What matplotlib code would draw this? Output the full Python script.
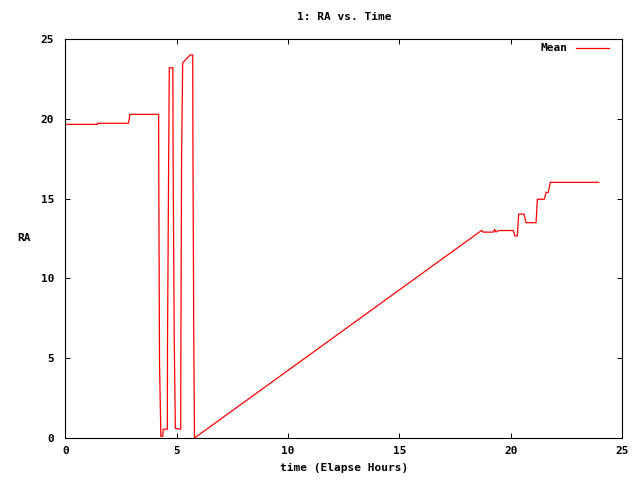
import matplotlib
matplotlib.use("Agg")
import matplotlib.pyplot as plt

# RA mean vs elapsed hours
hours = [0.0, 1.44, 1.45, 2.83, 2.85, 2.90, 4.19, 4.20, 4.23, 4.29, 4.37, 4.40,
         4.58, 4.59, 4.64, 4.67, 4.83, 4.84, 4.89, 4.94, 5.18, 5.19, 5.22, 5.27,
         5.60, 5.72, 5.73, 5.77, 5.80, 18.69, 18.75, 19.21, 19.27, 19.33, 19.45,
         20.11, 20.18, 20.29, 20.35, 20.59, 20.68, 21.13, 21.19, 21.50, 21.58,
         21.68, 21.77, 23.94]
ra_mean = [19.65, 19.65, 19.72, 19.72, 19.82, 20.28, 20.28, 15.1, 4.7, 0.1, 0.1, 0.55,
           0.55, 6.2, 17.5, 23.2, 23.2, 17.5, 6.3, 0.6, 0.55, 6.3, 17.6, 23.5,
           24.0, 24.0, 17.9, 5.6, 0.0, 13.01, 12.9, 12.9, 13.07, 12.9, 13.0,
           13.0, 12.66, 12.66, 14.03, 14.03, 13.49, 13.49, 14.96, 14.96, 15.39,
           15.39, 16.02, 16.02]

font = {"family": "DejaVu Sans Mono", "weight": "bold", "size": 8}

fig = plt.figure(figsize=(6.4, 4.8), dpi=100)
ax = fig.add_axes([0.102, 0.0875, 0.8703, 0.83125])
ax.plot(hours, ra_mean, color="#ff0000", lw=0.9, label="Mean")

ax.set_xlim(0, 25)
ax.set_ylim(0, 25)
ax.set_xticks(range(0, 26, 5))
ax.set_yticks(range(0, 26, 5))
ax.tick_params(direction="in", length=3.5, width=0.7, top=True, right=True)
ax.tick_params(axis="x", pad=6)
ax.tick_params(axis="y", pad=8)
for lab in ax.get_xticklabels() + ax.get_yticklabels():
    lab.set_fontproperties(font)
for s in ax.spines.values():
    s.set_linewidth(0.8)

ax.set_title("1: RA vs. Time", fontdict=font, pad=14)
ax.set_xlabel("time (Elapse Hours)", fontdict=font, labelpad=5)
ax.set_ylabel("RA", fontdict=font, rotation=0, labelpad=12, va="center")

leg = ax.legend(loc="upper right", frameon=False, markerfirst=False,
                handlelength=3.0, prop=font, borderaxespad=0,
                bbox_to_anchor=(0.985, 1.0))

fig.savefig("out.png", dpi=100)
